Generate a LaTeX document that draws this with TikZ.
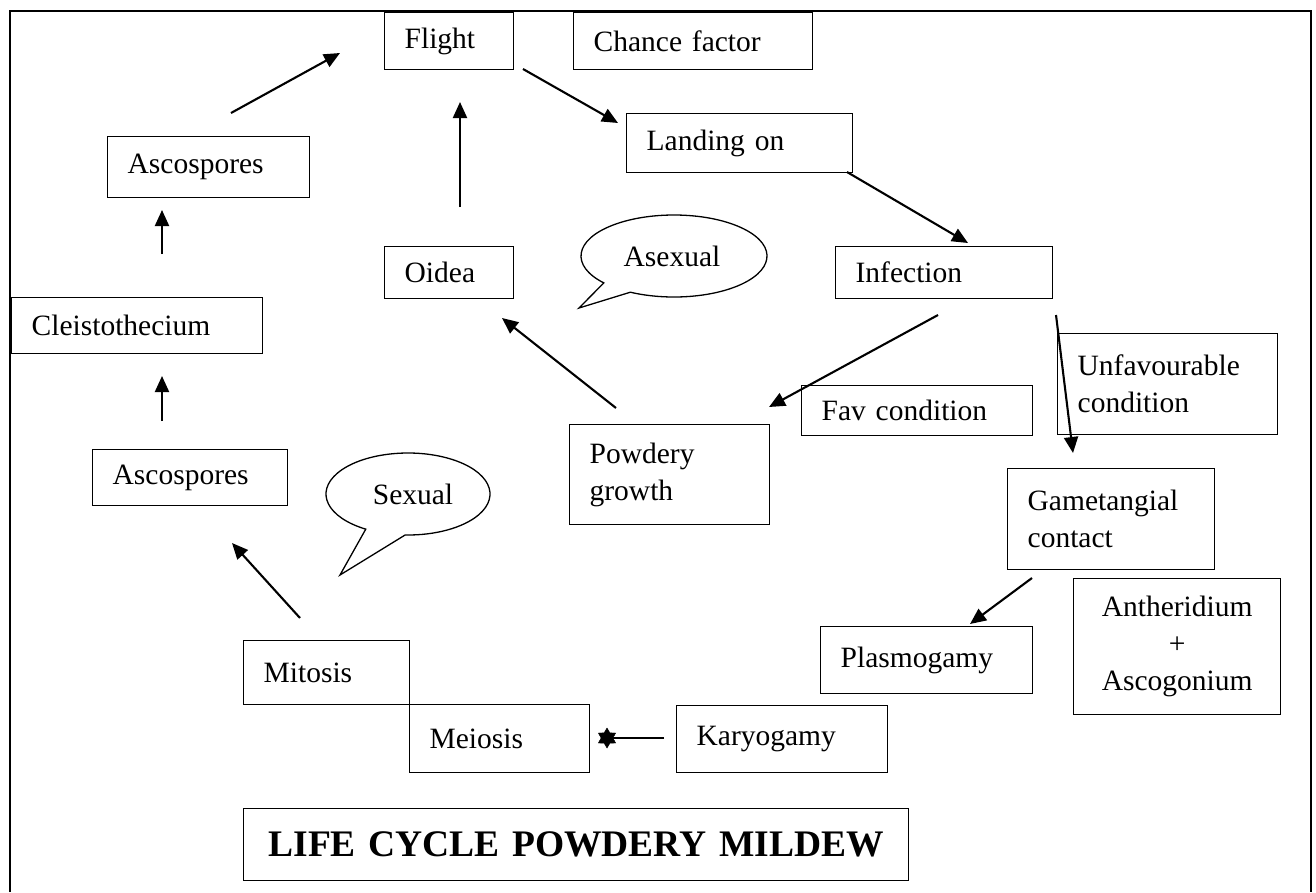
\documentclass[tikz,border=0pt]{standalone}
\usepackage{fontspec}
\setmainfont{Liberation Serif}
\usetikzlibrary{arrows.meta,shapes.geometric}
\newcommand\fs{\fontsize{29.5}{37}\selectfont}
\tikzset{
  box/.style={draw, line width=1.3pt, anchor=north west, inner xsep=20pt, inner ysep=0pt, align=left, font=\fs},
  cbox/.style={box, align=center},
  arr/.style={line width=2.1pt, -{Triangle[length=16pt,width=14pt]}},
  bubble/.style={draw, line width=1.3pt},
}
\begin{document}
\begin{tikzpicture}[x=1pt,y=-1pt]
\useasboundingbox (0,0) rectangle (1316,892);
% frame
\draw[line width=2pt] (10,892) -- (10,11) -- (1311,11) -- (1311,892);

% boxes: text width = box width - 40
\node[box, text width=89pt,  minimum height=57pt] (flight)  at (384,12)  {Flight};
\node[box, text width=199pt, minimum height=57pt] (chance)  at (573,12)  {Chance factor};
\node[box, text width=186pt, minimum height=59pt] (landing) at (626,113) {Landing on};
\node[box, text width=177pt, minimum height=52pt] (infect)  at (835,246) {Infection};
\node[box, text width=180pt, minimum height=101pt] (unfav)  at (1057,333) {Unfavourable\\condition};
\node[box, text width=191pt, minimum height=50pt] (fav)     at (801,385) {Fav condition};
\node[box, text width=167pt, minimum height=101pt] (gamet)  at (1007,468) {Gametangial\\contact};
\node[cbox, text width=167pt, minimum height=136pt] (anther) at (1073,578) {Antheridium\\+\\Ascogonium};
\node[box, text width=172pt, minimum height=67pt] (plasmo)  at (820,626) {Plasmogamy};
\node[box, text width=171pt, minimum height=67pt] (karyo)   at (676,705) {Karyogamy};
\node[box, text width=140pt, minimum height=68pt] (meiosis) at (409,704) {Meiosis};
\node[box, text width=126pt, minimum height=64pt] (mitosis) at (243,640) {Mitosis};
\node[box, text width=160pt, minimum height=100pt] (powdery) at (569,424) {Powdery\\growth};
\node[box, text width=89pt,  minimum height=52pt] (oidea)   at (384,246) {Oidea};
\node[box, text width=162pt, minimum height=61pt] (ascup)   at (107,136) {Ascospores};
\node[box, text width=211pt, minimum height=56pt] (cleist)  at (11,297)  {Cleistothecium};
\node[box, text width=155pt, minimum height=56pt] (asclow)  at (92,449)  {Ascospores};
\node[cbox, text width=625pt, minimum height=72pt, font=\fontsize{37.5}{40}\selectfont\bfseries] (title) at (243,808) {LIFE CYCLE POWDERY MILDEW};

% speech bubbles
\draw[bubble] (674,256) ++(139:93 and 41) arc[start angle=139, end angle=478, x radius=93, y radius=41] -- (579,308) -- cycle;
\node[font=\fs] (asexual) at (672,256) {Asexual};
\draw[bubble] (408,494) ++(121:82 and 41) arc[start angle=121, end angle=452, x radius=82, y radius=41] -- (340,575) -- cycle;
\node[font=\fs] (sexual) at (413,494) {Sexual};

% connector end points
\coordinate (a1s) at (231,113);  \coordinate (a1e) at (340,53);
\coordinate (a2s) at (460,207);  \coordinate (a2e) at (460,102);
\coordinate (a3s) at (523,69);   \coordinate (a3e) at (618,123);
\coordinate (a4s) at (847,172);  \coordinate (a4e) at (968,243);
\coordinate (a5s) at (938,315);  \coordinate (a5e) at (769,407);
\coordinate (a6s) at (1056,315); \coordinate (a6e) at (1073,453);
\coordinate (a7s) at (616,408);  \coordinate (a7e) at (502,318);
\coordinate (a8s) at (1032,578); \coordinate (a8e) at (970,624);
\coordinate (a9s) at (664,738);
\coordinate (a10s) at (300,618); \coordinate (a10e) at (232,543);
\coordinate (a11s) at (162,421); \coordinate (a11e) at (162,376);
\coordinate (a12s) at (162,254); \coordinate (a12e) at (162,210);

\draw[arr] (a1s) -- (a1e);
\draw[arr] (a2s) -- (a2e);
\draw[arr] (a3s) -- (a3e);
\draw[arr] (a4s) -- (a4e);
\draw[arr] (a5s) -- (a5e);
\draw[arr] (a6s) -- (a6e);
\draw[arr] (a7s) -- (a7e);
\draw[arr] (a8s) -- (a8e);
\node[star, star points=6, star point ratio=1.7, fill, draw, inner sep=0pt, minimum size=20pt] (mhead) at (607,738) {};
\draw[line width=2.1pt] (a9s) -- (mhead.center);
\draw[arr] (a10s) -- (a10e);
\draw[arr] (a11s) -- (a11e);
\draw[arr] (a12s) -- (a12e);
\end{tikzpicture}
\end{document}
